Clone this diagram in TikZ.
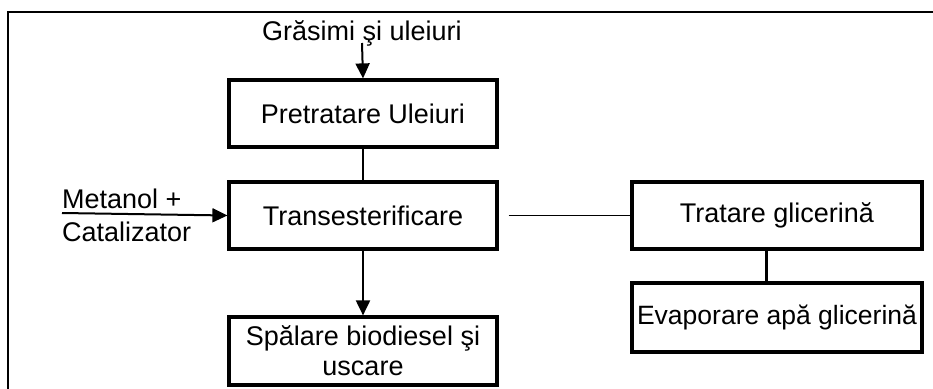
\documentclass[tikz,border=0pt]{standalone}
\usepackage{fontspec}
\setmainfont{Liberation Sans}
\usetikzlibrary{arrows.meta}
\begin{document}
\begin{tikzpicture}[x=1pt,y=-1pt,
  box/.style={draw,line width=3.2pt,rectangle,inner sep=0pt,minimum height=67pt,align=center,font=\fontsize{27}{30}\selectfont},
  thin/.style={line width=1.5pt},
  arr/.style={line width=2pt,-{Triangle[length=15pt,width=14pt]}},
  lbl/.style={inner sep=0pt,font=\fontsize{27}{30}\selectfont}]
\useasboundingbox (0,0) rectangle (933,388);
\fill[white] (0,0) rectangle (933,388);
% frame
\draw[line width=1.5pt] (8,390) -- (8,12) -- (935,12);
% nodes
\node[box,minimum width=268pt] (P) at (363,113.5) {Pretratare Uleiuri};
\node[box,minimum width=268pt] (T) at (363,215.5) {Transesterificare};
\node[box,minimum width=268pt,minimum height=68pt] (S) at (363,351) {Spălare biodiesel şi\\uscare};
\node[box,minimum width=290pt] (G) at (777,215.5) {Tratare glicerină};
\node[box,minimum width=290pt,minimum height=69pt,font=\fontsize{26.5}{30}\selectfont] (E) at (777,317.5) {Evaporare apă glicerină};
\node[lbl,anchor=base] (in) at (362,40) {Grăsimi şi uleiuri};
\node[lbl,anchor=base west] (m1) at (62,208) {Metanol +};
\node[lbl,anchor=base west] (m2) at (62,241) {Catalizator};
\coordinate (mstart) at (62,213);
\coordinate (instart) at (362,43);
% connectors
\draw[arr] (instart) -- (P.north);
\draw[thin] (P.south) -- (T.north);
\draw[arr] (mstart) -- (T.west);
\draw[arr] (T.south) -- (S.north);
\draw[thin] ([xshift=10pt]T.east) -- (G.west);
\draw[line width=3pt] ([xshift=-11pt]G.south) -- ([xshift=-11pt]E.north);
\end{tikzpicture}
\end{document}
